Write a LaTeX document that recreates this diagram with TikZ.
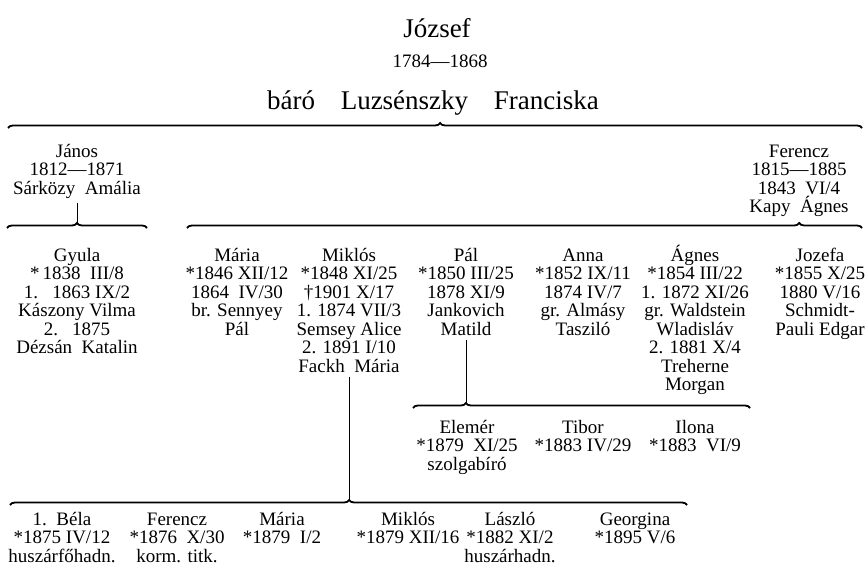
\documentclass[tikz,border=0pt]{standalone}
\usepackage{fontspec}
\setmainfont{Liberation Serif}
\usetikzlibrary{decorations.pathreplacing,calc}
\newcommand\fst{\rule{0pt}{18pt}}% first line strut
\tikzset{%
    brace/.style = { decorate, decoration={brace, amplitude=5pt, aspect=#1}, line width=1.8pt },
  brace/.default = 0.5,
   person/.style = { align=center, anchor=north, inner sep=0pt, font=\fontsize{19}{18.5}\selectfont },
    title/.style = { anchor=base, inner sep=0pt },
     stem/.style = { line width=0.8pt }
}

\begin{document}
\begin{tikzpicture}[x=1pt,y=-1pt]
\useasboundingbox (0,0) rectangle (865,570);
% the parents
\node[title, font=\fontsize{27}{30}\selectfont] (jozsef) at (437,37) {József};
\node[title, font=\fontsize{19}{20}\selectfont] (jozsef-dates) at (440,67) {1784---1868};
\node[title, font=\fontsize{27}{30}\selectfont] (jozsef-wife) at (433,109) {báró\hspace{0.95em}Luzsénszky\hspace{0.95em}Franciska};
\coordinate (top-l) at (8,128);
\coordinate (top-r) at (862,128);
\draw[brace=0.506] (top-l) -- (top-r);
% the sons
\node[person] (janos) at (77,139) {\fst János\\1812---1871\\Sárközy\ \ Amália};
\node[person] (ferencz) at (799,139) {\fst Ferencz\\1815---1885\\1843\ \ VI/4\\Kapy\ \ Ágnes};
% János' line
\coordinate (janos-l) at (7,228);
\coordinate (janos-r) at (147,228);
\coordinate (janos-tip) at (77,223);
\draw[brace] (janos-l) -- (janos-r);
\draw[stem] (janos.south) ++(0,4) -- (janos-tip);
\node[person] (gyula) at (77,243) {\fst Gyula\\*\,1838\ \ III/8\\1.\ \ \ 1863\ IX/2\\Kászony Vilma\\2.\ \ \ 1875\\Dézsán\ \ Katalin};
% Ferencz' line
\coordinate (ferencz-l) at (187,228);
\coordinate (ferencz-r) at (862,228);
\draw[brace=0.907] (ferencz-l) -- (ferencz-r);
\node[person] (maria) at (237,243) {\fst Mária\\*1846 XII/12\\1864\ \ IV/30\\br. Sennyey\\Pál};
\node[person] (miklos) at (349,243) {\fst Miklós\\*1848 XI/25\\†1901 X/17\\1. 1874 VII/3\\Semsey Alice\\2. 1891 I/10\\Fackh\ \ Mária};
\node[person] (pal) at (466,243) {\fst Pál\\*1850 III/25\\1878 XI/9\\Jankovich\\Matild};
\node[person] (anna) at (583,243) {\fst Anna\\*1852 IX/11\\1874 IV/7\\gr. Almásy\\Tasziló};
\node[person] (agnes) at (695,243) {\fst Ágnes\\*1854 III/22\\1. 1872 XI/26\\gr. Waldstein\\Wladisláv\\2. 1881 X/4\\Treherne\\Morgan};
\node[person] (jozefa) at (820,243) {\fst Jozefa\\*1855 X/25\\1880 V/16\\Schmidt-\\Pauli Edgar};
% Pál's children
\coordinate (pal-l) at (413,408);
\coordinate (pal-r) at (750,408);
\coordinate (pal-tip) at (466,403);
\draw[brace=0.157] (pal-l) -- (pal-r);
\draw[stem] (pal.south) ++(0,4) -- (pal-tip);
\node[person] (elemer) at (467,415) {\fst Elemér\\*1879\ \ XI/25\\szolgabíró};
\node[person] (tibor) at (583,415) {\fst Tibor\\*1883 IV/29};
\node[person] (ilona) at (695,415) {\fst Ilona\\*1883\ \ VI/9};
% Miklós' children
\coordinate (miklos-l) at (10,505);
\coordinate (miklos-r) at (687,505);
\coordinate (miklos-tip) at (349,500);
\draw[brace=0.501] (miklos-l) -- (miklos-r);
\draw[stem] (miklos.south) ++(0,4) -- (miklos-tip);
\node[person] (bela) at (62,507) {\fst 1.\ \ Béla\\*1875 IV/12\\huszárfőhadn.};
\node[person] (ferencz2) at (177,507) {\fst Ferencz\\*1876\ \ X/30\\korm. titk.};
\node[person] (maria2) at (282,507) {\fst Mária\\*1879\ \ I/2};
\node[person] (miklos2) at (408,507) {\fst Miklós\\*1879 XII/16};
\node[person] (laszlo) at (510,507) {\fst László\\*1882 XI/2\\huszárhadn.};
\node[person] (georgina) at (635,507) {\fst Georgina\\*1895 V/6};
\end{tikzpicture}
\end{document}
